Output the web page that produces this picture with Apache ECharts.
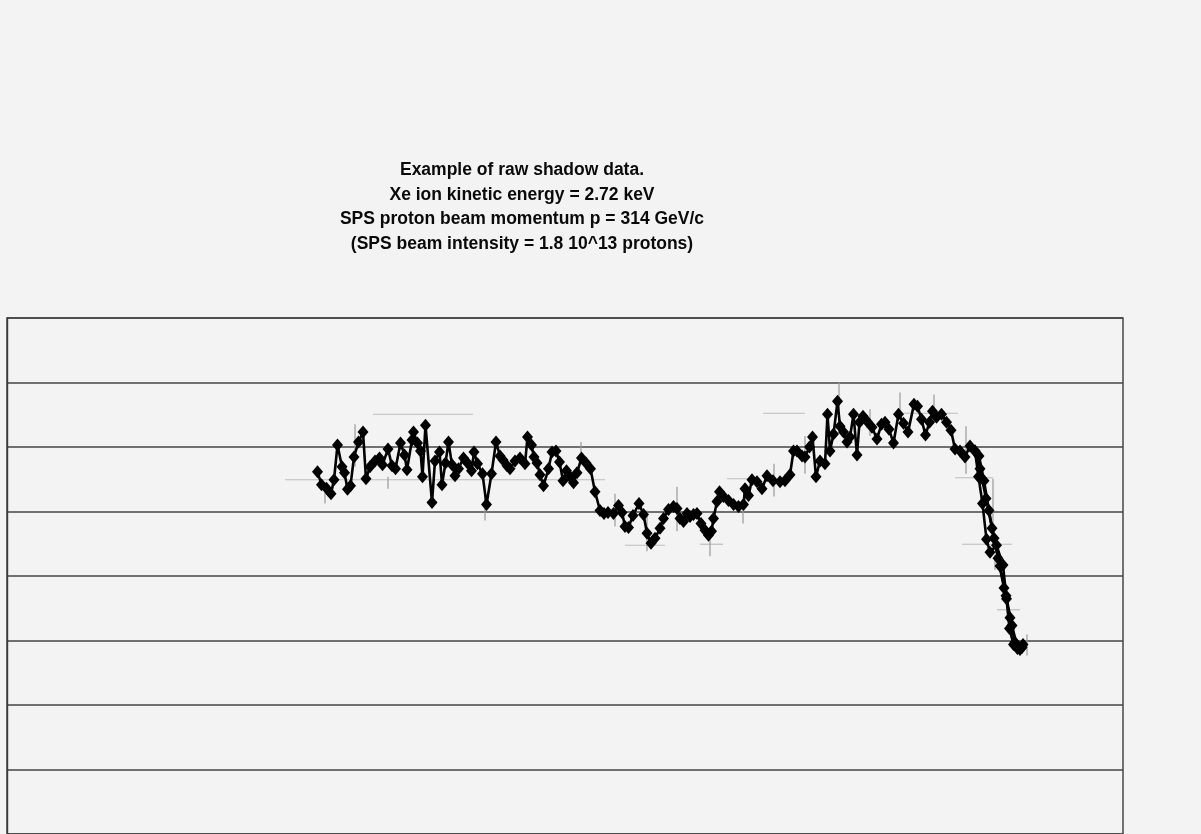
<!DOCTYPE html>
<html><head><meta charset="utf-8">
<script src="https://cdn.jsdelivr.net/npm/echarts@6/dist/echarts.min.js"></script>
<style>html,body{margin:0;padding:0;background:#f3f3f3}#c{width:1201px;height:834px}</style>
</head><body><div id="c"></div>
<script>
const titleLines = [
  'Example of raw shadow data.',
  'Xe ion kinetic energy = 2.72 keV',
  'SPS proton beam momentum p = 314 GeV/c',
  '(SPS beam intensity = 1.8 10^13 protons)'
];

// main scan: channel / counts (arbitrary units)
const scanX = [310.5,314.5,319.5,324,327,330.5,335,337.5,340.5,343.5,347,351.5,356,359,363,368,372.5,375.5,381,385,
388.5,393.5,397.5,400,405,406.5,410.5,413.5,415.5,418.5,425,428,432.5,435,438.5,441.5,445,448,451.5,456.5,
460.5,464.5,467,470.5,475.5,479.5,484.5,489,493,496,500,503,508,513,518,520.5,524.5,527,530,533,
536.5,541.5,545,549,552.5,556,559.5,563,566.5,570,574.5,579,583.5,588,593,597,601,606.5,611.5,615,
618,621.5,626,632,636.5,640,644,648,653,656.5,661.5,666.5,670,673,676.5,680,683,686.5,690,694,
698,701.5,704.5,706.5,710,712.5,716.5,721.5,726.5,731.5,736.5,738,741.5,745,750,755,760,766,773,778,
783,786.5,790,795,798,802.5,805.5,809,813,818,820.5,823,826.5,830.5,833,836.5,840,843,846.5,850,
852.5,856,860,865,870,874.5,878,882,886.5,891.5,896.5,901,907,910.5,914.5,918.5,922.5,925.5,929.5,934.5,
939.5,944,948,953,958,963,968,971.5,975.5,979.5,983,989.5,996,999.5,1002.5,1006.5,1010.5,1016];
const scanY = [365,352,348.5,343,357,392,370,364,347.5,351,380,395,405,358,370,376,379,372,388,371,
368,394,382,367,397,405,394,386,360,412,334,376,385,352,374,395,372,361,368,379,
374,366,385,373,363,332,363,395,381,377,371,368,376,379,373,400,392,380,374,362,
351,368,385,386,375,356,366,360,354,364,379,374,368,345,326,323,324,323,331,324,
310,309,321,333,322,303,293,298,308,318,327,330,328,318,315,323,320,322,323,313,
306,301,305,318,335,345,340,336,332,330,332,348,341,357,355,348,361,356,355,356,
362,386,386,381,380,390,400,360,376,373,423,386,403,436,411,405,395,400,423,382,
415,421,416,410,398,413,415,408,394,423,414,405,433,431,418,402,415,426,420,423,
415,407,388,386,380,391,386,360,333,297,284,291,271,237,207,191,187,191];

// repeated scans of the falling edge
const edgeBX = [968,973,979,985,991,997,1003,1008,1013];
const edgeBY = [386,368,338,308,278,248,218,193,186];
const edgeCX = [972,977,982,987,993,999,1005,1010,1015];
const edgeCY = [381,356,326,298,270,240,210,190,188];

// horizontal error bars: [xFrom, xTo, y]
const hErr = [[366,466,423],[278,598,357],[618,658,291],[693,716,292],[720,753,358],
  [756,798,424],[890,951,424],[948,986,359],[955,1005,292],[990,1013,226]];
// vertical error bars: [x, yFrom, yTo]
const vErr = [[318,345,333],[348,413,370],[381,360,348],[478,338,316],[574,395,375],
  [608,343,310],[640,326,285],[670,350,305],[703,305,280],[736,333,313],[767,373,340],
  [798,401,363],[832,455,418],[863,428,401],[893,445,418],[927,443,415],[959,411,363],
  [986,358,291],[988,281,266],[1020,201,180]];

const zip = (xs, ys) => xs.map((x, i) => [x, ys[i]]);

const lineSeries = (data, z) => ({
  type: 'line', data, z,
  symbol: 'diamond', symbolSize: [11, 13], showSymbol: true,
  lineStyle: {color: '#000', width: 2.6},
  itemStyle: {color: '#000'},
  silent: true
});

const chart = echarts.init(document.getElementById('c'), null, {renderer: 'canvas'});
chart.setOption({
  animation: false,
  backgroundColor: '#f3f3f3',
  title: {
    text: titleLines.join('\n'),
    left: 517, top: 153, textAlign: 'center',
    textStyle: {fontFamily: 'Liberation Sans, Arial, sans-serif', fontWeight: 'bold',
      fontSize: 17.5, lineHeight: 24.5, color: '#0a0a0a'}
  },
  grid: {left: 7, top: 318, width: 1116, height: 520, show: true,
    borderColor: '#3a3a3a', borderWidth: 1.4, backgroundColor: '#f3f3f3'},
  xAxis: {type: 'value', min: 0, max: 1116, axisLine: {show: false}, axisTick: {show: false},
    axisLabel: {show: false}, splitLine: {show: false}},
  yAxis: {type: 'value', min: 0, max: 520, interval: 65,
    axisLine: {show: true, lineStyle: {color: '#3a3a3a', width: 1.4}}, axisTick: {show: false},
    axisLabel: {show: false}, splitLine: {lineStyle: {color: '#444', width: 1.6}}},
  series: [
    {type: 'custom', z: 1, silent: true, data: hErr, encode: {x: [0, 1], y: 2},
      renderItem: (p, api) => {
        const a = api.coord([api.value(0), api.value(2)]);
        const b = api.coord([api.value(1), api.value(2)]);
        return {type: 'line', shape: {x1: a[0], y1: a[1], x2: b[0], y2: b[1]},
          style: {stroke: '#bdbdbd', lineWidth: 1.2}};
      }},
    {type: 'custom', z: 1, silent: true, data: vErr, encode: {x: 0, y: [1, 2]},
      renderItem: (p, api) => {
        const a = api.coord([api.value(0), api.value(1)]);
        const b = api.coord([api.value(0), api.value(2)]);
        return {type: 'line', shape: {x1: a[0], y1: a[1], x2: b[0], y2: b[1]},
          style: {stroke: '#999', lineWidth: 1.2}};
      }},
    lineSeries(zip(edgeBX, edgeBY), 3),
    lineSeries(zip(edgeCX, edgeCY), 3),
    lineSeries(zip(scanX, scanY), 4)
  ]
});
</script>
</body></html>
